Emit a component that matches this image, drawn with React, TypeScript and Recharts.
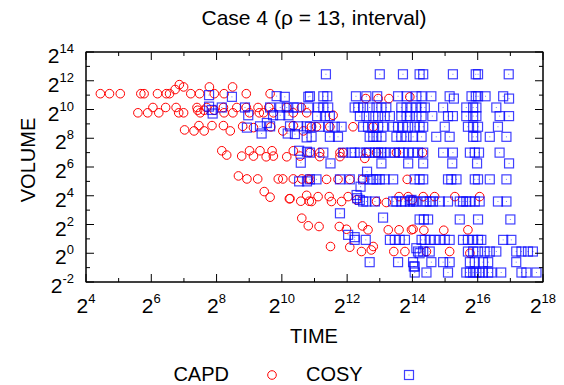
import { ScatterChart, Scatter, XAxis, YAxis } from "recharts";

// values read as powers of two: [log2 TIME, log2 VOLUME]
const capdPoints: [number, number][] = [
  [4.44, 11.1], [4.72, 11.1], [5.05, 11.1], [5.68, 11.1], [5.78, 11.1], [6.19, 11.1], [6.46, 11.1], [6.56, 11.1],
  [7.21, 11.1], [7.48, 11.1], [7.93, 11.1], [8.23, 11.1], [8.91, 11.1], [9.64, 11.1],
  [6.73, 11.39], [6.86, 11.73], [6.99, 11.57], [7.78, 11.57], [8.49, 11.57],
  [5.59, 9.77], [5.89, 9.77], [6.23, 9.77], [6.84, 9.77], [6.99, 9.77], [7.5, 9.77], [8.23, 9.77], [8.5, 9.77],
  [9.01, 9.77], [9.31, 9.77], [9.44, 9.77], [9.74, 9.77], [10.35, 9.77], [10.76, 9.77],
  [6.05, 10.14], [6.44, 10.14], [6.76, 10.14], [7.4, 10.14], [7.7, 10.14], [8.21, 10.14], [8.62, 10.14],
  [8.91, 10.14], [9.27, 10.14], [9.6, 10.14], [10.15, 10.14], [10.6, 10.14],
  [7.42, 9.95], [7.62, 9.95], [7.93, 9.95],
  [7.02, 8.58], [7.31, 8.51], [7.46, 8.88], [7.62, 8.51], [7.86, 8.88], [8.21, 8.88], [8.42, 8.51], [8.8, 8.83],
  [9.13, 8.74], [9.66, 8.79], [10.03, 8.51], [10.35, 8.88], [10.66, 8.51],
  [8.16, 7.13], [8.31, 6.83], [8.77, 6.76], [9.01, 7.13], [9.13, 6.76], [9.33, 7.13], [9.52, 6.71], [9.7, 7.13],
  [9.74, 6.76], [10.15, 6.71], [10.35, 7.13], [10.56, 6.76],
  [8.67, 5.38], [8.93, 5.17], [9.26, 5.17], [9.89, 5.17], [10.03, 5.17], [10.35, 5.17], [10.61, 5.17], [10.81, 5.17],
  [9.46, 4.29], [9.64, 3.9], [10.23, 3.79], [10.25, 3.8], [10.58, 3.62], [10.76, 4.03], [10.84, 3.62],
  [10.61, 2.44], [10.81, 1.91],
  [12.57, 10.76], [12.95, 10.76], [13.28, 10.76], [13.92, 10.88], [11.57, 9.6],
  [10.91, 8.8], [11.06, 8.8], [11.47, 8.8], [12.18, 8.8], [12.8, 8.8],
  [10.86, 7.0], [11.16, 7.0], [11.78, 7.0], [11.88, 7.0], [12.59, 7.0], [12.9, 7.0], [13.51, 7.0], [14.31, 7.0],
  [11.16, 6.72], [11.78, 6.72], [12.54, 6.6],
  [10.86, 5.14], [11.37, 5.14], [11.72, 5.14], [12.08, 5.14], [12.47, 5.14], [13.84, 5.14],
  [10.91, 3.6], [11.11, 3.94], [11.45, 3.94], [11.52, 3.6], [11.83, 3.6], [12.03, 3.94], [12.29, 3.71], [12.9, 3.6],
  [13.2, 3.53], [13.59, 3.94], [13.87, 3.94], [14.0, 3.71], [14.33, 3.94], [14.68, 3.94], [15.3, 3.94], [16.06, 3.94],
  [11.14, 1.86], [11.76, 1.86], [11.98, 1.67], [12.47, 1.9], [12.64, 1.63], [13.26, 1.63], [13.59, 1.63],
  [13.97, 1.63], [14.02, 1.67], [14.35, 1.6], [14.96, 1.6], [15.7, 1.63],
  [11.49, 0.47], [12.08, 0.42], [12.44, 0.12], [12.74, 0.23], [12.8, 0.47], [13.43, 0.12], [13.77, 0.12],
  [14.43, 0.12], [15.14, 0.12], [15.76, 0.0],
];

const cosyPoints: [number, number][] = [
  [7.77, 11.0], [8.47, 10.88], [7.77, 10.2], [7.85, 9.97], [7.88, 9.72], [8.16, 10.14], [8.87, 10.14], [8.97, 9.6],
  [9.84, 10.93], [10.09, 10.88], [9.64, 10.14], [9.95, 9.6], [10.15, 10.14], [10.2, 9.6], [10.47, 10.14],
  [10.81, 10.88], [10.81, 10.14], [9.95, 10.14], [10.36, 10.14], [9.73, 9.6],
  [8.93, 8.74], [9.33, 8.83], [9.38, 8.33], [9.54, 9.06], [9.64, 8.83], [10.25, 8.83], [10.18, 8.33], [10.4, 8.29],
  [10.5, 8.83], [10.76, 8.83], [10.76, 8.06],
  [10.53, 7.13], [10.77, 7.06], [10.58, 6.3], [10.53, 5.0], [10.77, 5.0],
  [11.35, 12.45], [13.0, 12.45], [13.71, 12.45], [14.22, 12.45], [14.33, 12.45], [15.24, 12.45], [15.94, 12.45],
  [16.01, 12.45], [16.95, 12.45],
  [10.86, 10.92], [11.27, 10.92], [11.39, 10.92], [12.27, 10.92], [12.59, 10.92], [12.92, 10.92], [13.56, 10.92],
  [13.82, 10.92], [14.12, 10.92], [14.28, 10.92], [14.58, 10.92], [15.14, 10.92], [15.27, 10.76], [15.81, 10.92],
  [15.94, 10.92], [16.01, 10.92], [16.24, 10.92], [16.78, 10.92], [16.96, 10.76],
  [11.11, 10.14], [11.27, 10.14], [11.42, 10.14], [12.23, 10.14], [12.34, 10.14], [12.49, 10.14], [12.69, 10.14],
  [12.9, 10.14], [13.05, 10.14], [13.2, 10.14], [13.66, 10.14], [13.82, 10.14], [13.97, 10.14], [14.12, 10.14],
  [14.28, 10.14], [14.38, 10.14], [14.94, 10.14], [15.65, 10.14], [15.86, 10.14], [15.96, 10.14], [16.57, 10.14],
  [11.08, 9.54], [11.32, 9.54], [11.47, 9.54], [12.39, 9.54], [12.59, 9.54], [12.8, 9.54], [12.95, 9.54],
  [13.15, 9.54], [13.31, 9.54], [13.66, 9.54], [13.82, 9.54], [13.92, 9.54], [14.12, 9.54], [14.28, 9.54],
  [14.61, 9.54], [15.09, 9.54], [15.24, 9.54], [15.65, 9.54], [15.86, 9.54], [15.96, 9.54], [16.67, 9.54], [16.96, 9.54],
  [10.86, 8.8], [11.16, 8.8], [11.42, 8.8], [11.62, 8.8], [11.83, 8.8], [12.49, 8.8], [12.64, 8.8], [12.8, 8.8],
  [12.95, 8.8], [13.1, 8.8], [13.41, 8.8], [13.56, 8.8], [13.71, 8.8], [13.87, 8.8], [14.07, 8.8], [14.22, 8.8],
  [14.33, 8.8], [14.99, 8.8], [15.7, 8.8], [15.86, 8.8], [16.01, 8.8], [16.62, 8.8],
  [10.91, 8.1], [11.47, 8.1], [11.72, 8.1], [12.69, 8.1], [12.8, 8.1], [12.9, 8.1], [13.05, 8.1], [13.51, 8.1],
  [13.66, 8.1], [13.82, 8.1], [14.02, 8.1], [14.28, 8.1], [14.73, 8.1], [15.14, 8.1], [15.86, 8.1], [15.96, 8.1],
  [16.37, 8.1], [16.88, 8.1],
  [10.86, 7.0], [11.27, 7.0], [11.88, 7.0], [12.13, 7.0], [12.23, 7.0], [12.39, 7.0], [12.59, 7.0], [12.69, 7.0],
  [12.85, 7.0], [12.95, 7.0], [13.05, 7.0], [13.15, 7.0], [13.31, 7.0], [13.46, 7.0], [13.61, 7.0], [13.71, 7.0],
  [13.87, 7.0], [14.02, 7.0], [14.17, 7.0], [14.33, 7.0], [14.94, 7.0], [15.24, 7.0], [15.76, 7.0], [15.91, 7.0],
  [16.04, 7.0], [16.67, 7.0],
  [11.49, 6.25], [13.05, 6.25], [13.87, 6.25], [14.33, 6.25], [15.22, 6.25], [15.98, 6.25], [16.96, 6.25],
  [12.61, 5.67],
  [10.86, 5.14], [11.06, 5.14], [11.78, 5.14], [12.08, 5.14], [12.49, 5.14], [12.69, 5.14], [12.8, 5.14], [12.9, 5.14],
  [13.0, 5.14], [13.15, 5.14], [13.41, 5.14], [14.07, 5.14], [14.22, 5.14], [14.33, 5.14], [15.09, 5.14], [15.19, 5.14],
  [15.35, 5.14], [15.91, 5.14], [16.01, 5.14], [16.37, 5.14], [16.88, 5.14],
  [12.41, 4.63],
  [12.29, 4.05], [12.31, 3.83], [12.39, 3.71], [12.49, 3.6], [12.59, 3.6], [12.85, 3.6], [13.41, 3.6], [13.51, 3.6],
  [13.66, 3.6], [13.77, 3.6], [13.92, 3.6], [13.97, 3.71], [14.02, 3.6], [14.12, 3.6], [14.33, 3.6], [14.43, 3.6],
  [14.53, 3.6], [14.63, 3.6], [14.84, 3.6], [15.09, 3.6], [15.45, 3.6], [15.55, 3.6], [15.65, 3.6], [15.76, 3.6],
  [15.91, 3.6], [16.06, 3.6], [16.62, 3.6], [16.88, 3.6],
  [11.78, 2.78], [13.1, 2.48],
  [14.22, 2.35], [14.35, 2.35], [14.48, 2.35], [15.45, 2.35], [16.01, 2.35], [17.0, 2.35],
  [12.03, 1.28], [12.23, 1.12], [12.57, 0.93], [12.23, 0.93],
  [13.31, 0.93], [13.46, 0.93], [13.61, 0.93], [13.77, 0.93], [14.28, 0.93], [14.38, 0.93], [14.53, 0.93],
  [14.68, 0.93], [14.84, 0.93], [14.99, 0.93], [15.14, 0.93], [15.55, 0.93], [15.7, 0.93], [15.86, 0.93],
  [16.01, 0.93], [16.11, 0.93], [16.78, 0.93], [17.03, 0.93],
  [14.12, 0.35], [14.17, 0.12], [14.22, 0.0], [14.33, 0.12], [14.53, 0.12], [15.7, 0.12], [15.86, 0.12],
  [16.01, 0.12], [16.21, 0.12], [16.37, 0.12], [16.57, 0.12], [17.18, 0.12], [17.34, 0.12], [17.54, 0.12], [17.69, 0.12],
  [12.69, -0.62], [13.56, -0.62], [14.02, -0.62], [14.58, -0.62], [14.94, -0.62], [15.14, -0.62], [15.76, -0.62],
  [15.91, -0.62], [16.16, -0.62], [16.32, -0.62], [17.18, -0.62],
  [14.04, -0.92], [14.07, -0.92],
  [14.07, -1.34], [14.43, -1.34], [15.09, -1.34], [15.65, -1.34], [15.76, -1.34], [15.86, -1.34], [15.96, -1.34],
  [16.06, -1.34], [16.16, -1.34], [16.32, -1.34], [16.42, -1.34], [16.72, -1.34], [17.34, -1.34], [17.49, -1.34],
  [17.8, -1.34],
];

// tick exponents (every power of two, labelled on even ones)
const xTickExps = [4, 5, 6, 7, 8, 9, 10, 11, 12, 13, 14, 15, 16, 17, 18];
const yTickExps = [-2, -1, 0, 1, 2, 3, 4, 5, 6, 7, 8, 9, 10, 11, 12, 13, 14];

const toRow = ([t, v]: [number, number]) => ({ time: 2 ** t, volume: 2 ** v });
const capd = capdPoints.map(toRow);
const cosy = cosyPoints.map(toRow);
const xTicks = xTickExps.map((e) => 2 ** e);
const yTicks = yTickExps.map((e) => 2 ** e);

const FONT = '"Liberation Sans", Arial, Helvetica, sans-serif';
const expOf = (v: number) => Math.round(Math.log2(v));

const PowLabel = ({ e, ...rest }: any) => (
  <text fontFamily={FONT} fill="#000" stroke="none" {...rest}>
    <tspan fontSize={21}>2</tspan>
    <tspan fontSize={13} dy={-10}>{e}</tspan>
  </text>
);

// inward ticks, mirrored on top/right; only even powers get a label
const XTick = (props: any) => {
  const { x, y, payload, side } = props;
  const e = expOf(payload.value);
  const len = e % 2 === 0 ? 8 : 4;
  if (side === "top") {
    return <line x1={x} y1={y} x2={x} y2={y + len} stroke="#000" strokeWidth={1} />;
  }
  return (
    <g>
      <line x1={x} y1={y} x2={x} y2={y - len} stroke="#000" strokeWidth={1} />
      {e % 2 === 0 && <PowLabel e={e} x={x} y={y + 31} textAnchor="middle" />}
    </g>
  );
};

const YTick = (props: any) => {
  const { x, y, payload, side } = props;
  const e = expOf(payload.value);
  const len = e % 2 === 0 ? 8 : 4;
  if (side === "right") {
    return <line x1={x} y1={y} x2={x - len} y2={y} stroke="#000" strokeWidth={1} />;
  }
  return (
    <g>
      <line x1={x} y1={y} x2={x + len} y2={y} stroke="#000" strokeWidth={1} />
      {e % 2 === 0 && <PowLabel e={e} x={x - 12} y={y + 11} textAnchor="end" />}
    </g>
  );
};

const Circle = ({ cx, cy }: any) => (
  <circle cx={cx} cy={cy} r={4.3} fill="none" stroke="#ff0000" strokeWidth={1} />
);

const Box = ({ cx, cy }: any) => (
  <g>
    <rect x={cx - 4.5} y={cy - 4.5} width={9} height={9} fill="none" stroke="#0000ff" strokeOpacity={0.75} strokeWidth={1.2} />
    <rect x={cx - 0.5} y={cy - 0.5} width={1} height={1} fill="#0000ff" fillOpacity={0.5} />
  </g>
);

const axisCommon = {
  type: "number" as const,
  scale: "log" as const,
  interval: 0 as const,
  tickSize: 0,
  tickMargin: 0,
  stroke: "#000",
  axisLine: { stroke: "#000", strokeWidth: 1 },
  allowDataOverflow: true,
};

export default function App() {
  return (
    <div style={{ position: "absolute", left: 0, top: 0, width: 564, height: 385, background: "#fff" }}>
      <ScatterChart width={564} height={385} margin={{ top: 51, right: 20, bottom: 73, left: 0 }}>
        <XAxis
          {...axisCommon}
          xAxisId="b"
          dataKey="time"
          domain={[16, 262144]}
          ticks={xTicks}
          height={30}
          tick={<XTick side="bottom" />}
        />
        <XAxis
          {...axisCommon}
          xAxisId="t"
          orientation="top"
          dataKey="time"
          domain={[16, 262144]}
          ticks={xTicks}
          height={1}
          tick={<XTick side="top" />}
        />
        <YAxis
          {...axisCommon}
          yAxisId="l"
          dataKey="volume"
          domain={[0.25, 16384]}
          ticks={yTicks}
          width={86}
          tick={<YTick side="left" />}
        />
        <YAxis
          {...axisCommon}
          yAxisId="r"
          orientation="right"
          dataKey="volume"
          domain={[0.25, 16384]}
          ticks={yTicks}
          width={1}
          tick={<YTick side="right" />}
        />
        <Scatter name="CAPD" data={capd} xAxisId="b" yAxisId="l" shape={<Circle />} isAnimationActive={false} />
        <Scatter name="COSY" data={cosy} xAxisId="b" yAxisId="l" shape={<Box />} isAnimationActive={false} />
      </ScatterChart>
      <svg width={564} height={385} style={{ position: "absolute", left: 0, top: 0, pointerEvents: "none" }}>
        <rect x={86} y={52} width={457} height={230} fill="none" stroke="#000" strokeWidth={1} />
        <text x={314} y={25} textAnchor="middle" fontFamily={FONT} fontSize={21} fill="#000">
          Case 4 (ρ = 13, interval)
        </text>
        <text x={314} y={343} textAnchor="middle" fontFamily={FONT} fontSize={20} fill="#000">
          TIME
        </text>
        <text x={35} y={160} textAnchor="middle" fontFamily={FONT} fontSize={20} fill="#000" transform="rotate(-90 35 160)">
          VOLUME
        </text>
        <text x={229} y={381} textAnchor="end" fontFamily={FONT} fontSize={20} fill="#000">CAPD</text>
        <circle cx={272} cy={375} r={4.3} fill="none" stroke="#ff0000" />
        <text x={306} y={381} fontFamily={FONT} fontSize={20} fill="#000">COSY</text>
        <rect x={404.5} y={370.5} width={9} height={9} fill="none" stroke="#0000ff" strokeOpacity={0.75} strokeWidth={1.2} />
        <rect x={408.5} y={374.5} width={1} height={1} fill="#0000ff" fillOpacity={0.5} />
      </svg>
    </div>
  );
}
